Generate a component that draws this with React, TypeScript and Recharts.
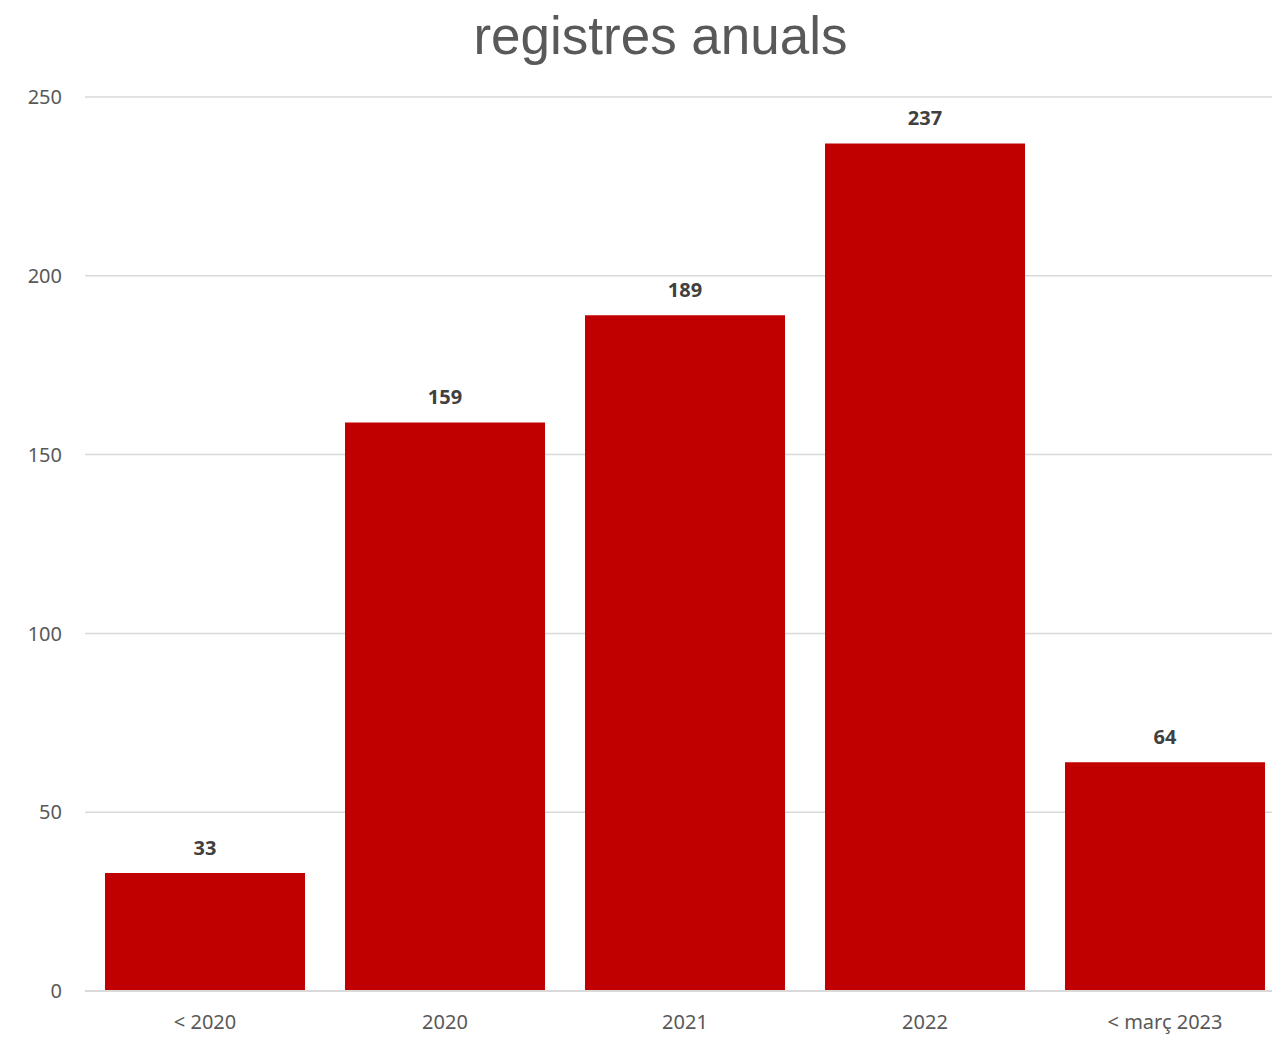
import React from 'react'
import { BarChart, Bar, XAxis, YAxis, CartesianGrid, LabelList } from 'recharts'

const categories = ['< 2020', '2020', '2021', '2022', '< març 2023']
const registres = [33, 159, 189, 237, 64]
const yTicks = [0, 50, 100, 150, 200, 250]

const data = categories.map((periode, i) => ({ periode, registres: registres[i] }))

const App = () => {
  return (
    <div
      style={{
        position: 'absolute',
        left: 0,
        top: 0,
        width: 1272,
        height: 1038,
        overflow: 'hidden',
        background: '#fff',
      }}
    >
      <div
        style={{
          position: 'absolute',
          left: 0,
          top: 9,
          width: 1321,
          textAlign: 'center',
          fontFamily: '"Liberation Sans", Arial, sans-serif',
          fontSize: 53,
          lineHeight: '53px',
          color: '#595959',
        }}
      >
        registres anuals
      </div>
      <BarChart
        width={1300}
        height={1038}
        data={data}
        margin={{ top: 97, right: 15, bottom: 0, left: 0 }}
        barCategoryGap={20}
      >
        <CartesianGrid vertical={false} stroke="#d9d9d9" strokeWidth={1.5} />
        <XAxis
          dataKey="periode"
          height={47}
          tickLine={false}
          tickMargin={18}
          axisLine={{ stroke: '#d9d9d9', strokeWidth: 2 }}
          tick={{ fill: '#595959', fontSize: 20, fontFamily: '"Noto Sans", sans-serif' }}
        />
        <YAxis
          width={85}
          domain={[0, 250]}
          ticks={yTicks}
          axisLine={false}
          tickLine={false}
          tickMargin={17}
          tick={{ fill: '#595959', fontSize: 20, fontFamily: '"Noto Sans", sans-serif' }}
        />
        <Bar dataKey="registres" fill="#c00000" isAnimationActive={false}>
          <LabelList
            dataKey="registres"
            position="top"
            offset={18}
            fill="#404040"
            fontSize={20}
            fontWeight="bold"
            fontFamily='"Noto Sans", sans-serif'
          />
        </Bar>
      </BarChart>
    </div>
  )
}

export default App
